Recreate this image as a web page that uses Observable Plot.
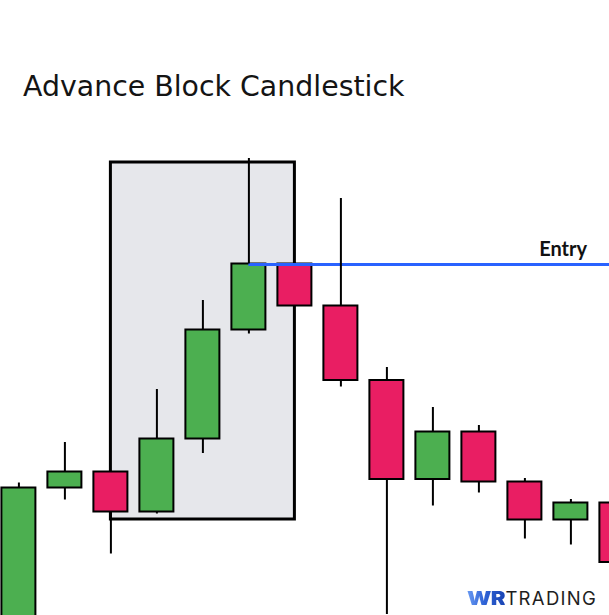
<!DOCTYPE html>
<html>
<head>
<meta charset="utf-8">
<script src="https://cdn.jsdelivr.net/npm/d3@7"></script>
<script src="https://cdn.jsdelivr.net/npm/@observablehq/plot@0.6"></script>
<style>
  html, body { margin: 0; padding: 0; background: #fff; }
  #wrap { position: relative; width: 609px; height: 615px; overflow: hidden; padding-top: 140px; box-sizing: border-box; }
  #title { position: absolute; left: 23px; top: 73px; margin: 0; font: 400 28.4px/28px "DejaVu Sans", sans-serif; color: #141414; white-space: nowrap; }
  #logo { position: absolute; left: 467px; top: 589px; font-family: Inter, sans-serif; font-size: 18.5px; line-height: 19px; white-space: nowrap; }
  #logo .wr { display: inline-block; font-weight: 900; letter-spacing: -0.5px; transform: scaleX(1.22); transform-origin: left center; margin-right: 7px;
              background: linear-gradient(90deg, #6a9af2 0%, #2f63d6 45%, #1a44b3 100%); -webkit-background-clip: text; background-clip: text; color: transparent; }
  #logo .tr { font-weight: 400; color: #1e1e1e; letter-spacing: 1.3px; }
  svg { display: block; }
</style>
</head>
<body>
<div id="wrap">
  <h1 id="title">Advance Block Candlestick</h1>
  <div id="chart"></div>
  <div id="logo"><span class="wr">WR</span><span class="tr">TRADING</span></div>
</div>
<script>
// Candle data (price units)
const idx   = [1, 2, 3, 4, 5, 6, 7, 8, 9, 10, 11, 12, 13, 14];
const open  = [-2, 25.5, 28.7, 20.7, 35.3, 57.1, 70.3, 61.9, 47.0, 27.2, 36.7, 26.7, 19.1, 22.5];
const close = [25.5, 28.7, 20.7, 35.3, 57.1, 70.3, 61.9, 47.0, 27.2, 36.7, 26.7, 19.1, 22.5, 10.6];
const high  = [26.5, 34.6, 28.7, 45.2, 63.0, 91.4, 70.3, 83.4, 49.6, 41.6, 38.0, 27.4, 23.2, 22.5];
const low   = [-4, 23.1, 12.3, 20.3, 32.4, 56.3, 61.9, 45.7, 0.2, 21.9, 24.5, 15.3, 14.1, 10.6];

// Highlight block (pattern) and entry level
const blockFrom = 3, blockTo = 7;
const blockLow = 19.2, blockHigh = 90.6;
const entryFrom = 6, entryTo = 14.5;
const entryLevel = 70.2;
const entryLabel = "Entry";

const candles = idx.map((i, k) => ({
  i, open: open[k], close: close[k], high: high[k], low: low[k],
  top: Math.max(open[k], close[k]), bottom: Math.min(open[k], close[k]),
  up: close[k] >= open[k]
}));

const half = 17 / 46;

const chart = Plot.plot({
  width: 609,
  height: 475,
  margin: 0,
  x: {type: "linear", domain: [0.6, 13.8391], axis: null},
  y: {type: "linear", domain: [0, 95], axis: null},
  marks: [
    Plot.rect([{x1: blockFrom, x2: blockTo, y1: blockLow, y2: blockHigh}], {
      x1: "x1", x2: "x2", y1: "y1", y2: "y2",
      fill: "#e6e7eb", stroke: "#000", strokeWidth: 3
    }),
    Plot.rect(candles, {
      x1: d => d.i - half, x2: d => d.i + half,
      y1: "open", y2: "close",
      fill: d => d.up ? "#4caf50" : "#e91e63",
      stroke: "#000", strokeWidth: 2
    }),
    Plot.ruleY([{y: entryLevel, x1: entryFrom, x2: entryTo}], {
      y: "y", x1: "x1", x2: "x2", stroke: "#2962ff", strokeWidth: 3
    }),
    // upper and lower wicks
    Plot.ruleX(candles, {x: "i", y1: "top", y2: "high", stroke: "#000", strokeWidth: 2}),
    Plot.ruleX(candles, {x: "i", y1: "low", y2: "bottom", stroke: "#000", strokeWidth: 2}),
    Plot.text([{x: 12.83, y: entryLevel, t: entryLabel}], {
      x: "x", y: "y", text: "t", lineAnchor: "bottom", dy: -9,
      fontFamily: "Lato, sans-serif", fontWeight: "bold", fontSize: 20, fill: "#111"
    })
  ]
});
document.getElementById("chart").appendChild(chart);
</script>
</body>
</html>
